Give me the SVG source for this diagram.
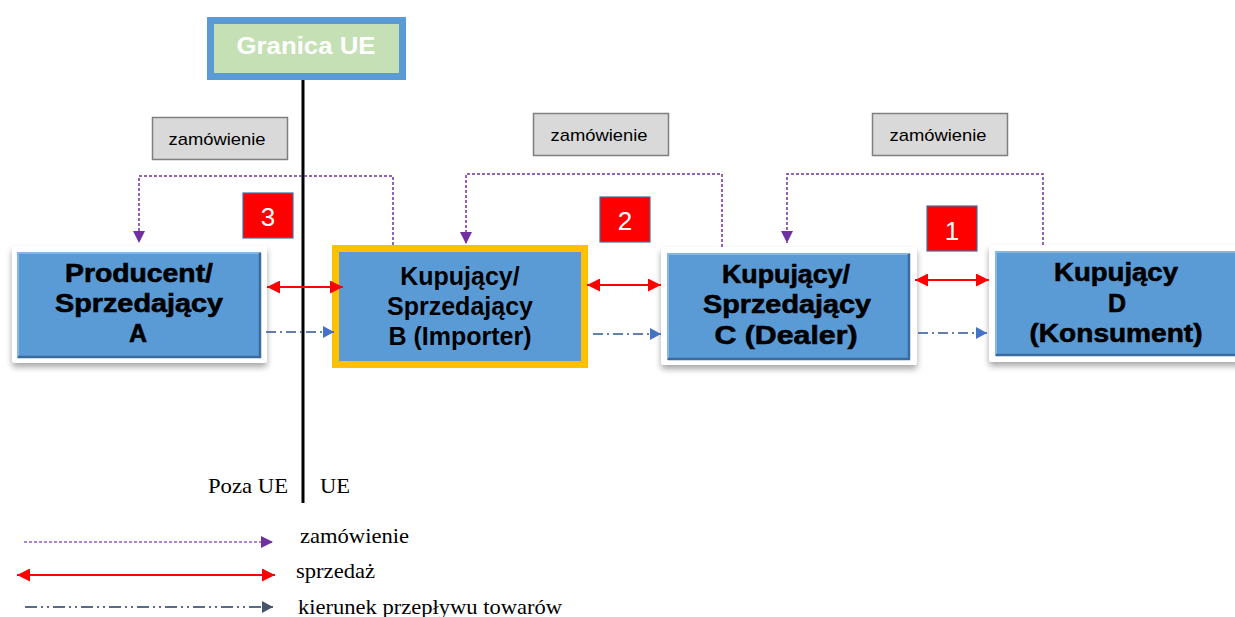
<svg xmlns="http://www.w3.org/2000/svg" width="1235" height="617" viewBox="0 0 1235 617">
  <defs>
    <style>
      .lbl { font-family: "Liberation Sans", Arial, sans-serif; font-weight: bold; font-size: 25px; fill: #000; text-anchor: middle; }
      .heavy { stroke: #000; stroke-width: 0.6; }
      .order-box { fill: #d9d9d9; stroke: #7f7f7f; stroke-width: 1.5; }
      .order-txt { font-family: "Liberation Sans", Arial, sans-serif; font-size: 17px; fill: #000; text-anchor: middle; }
      .badge { fill: #ff0000; stroke: #41719c; stroke-width: 1.2; }
      .badge-txt { font-family: "Liberation Sans", Arial, sans-serif; font-size: 26px; fill: #fff; text-anchor: middle; }
      .order { fill: none; stroke: #7030a0; stroke-width: 1.5; stroke-dasharray: 3 2; }
      .sale { fill: none; stroke: #ff0000; stroke-width: 2; }
      .goods { fill: none; stroke: #2f5597; stroke-width: 1.6; stroke-dasharray: 10 4 2 4; }
      .goods-leg { fill: none; stroke: #596b88; stroke-width: 1.8; stroke-dasharray: 12 4 2 4 2 4; }
      .serif { font-family: "Liberation Serif", "Times New Roman", serif; font-size: 21px; fill: #000; }
      .frame { fill: #fff; filter: url(#shadow); }
      .node-fill { fill: #5b9bd5; }
      .bevel-dark { fill: none; stroke: #3b6b9c; stroke-width: 2.5; }
      .bevel-light { fill: none; stroke: #86b6e4; stroke-width: 2; }
    </style>
    <filter id="shadow" x="-10%" y="-10%" width="120%" height="130%">
      <feDropShadow dx="0" dy="4" stdDeviation="3" flood-color="#000" flood-opacity="0.35"/>
    </filter>
    <marker id="mOrder" markerUnits="userSpaceOnUse" markerWidth="12" markerHeight="12" viewBox="0 0 10 10" refX="10" refY="5" orient="auto">
      <path d="M0,0 L10,5 L0,10 z" fill="#7030a0"/>
    </marker>
    <marker id="mSale" markerUnits="userSpaceOnUse" markerWidth="13" markerHeight="13" viewBox="0 0 10 10" refX="10" refY="5" orient="auto-start-reverse">
      <path d="M0,0 L10,5 L0,10 z" fill="#ff0000"/>
    </marker>
    <marker id="mGoods" markerUnits="userSpaceOnUse" markerWidth="11" markerHeight="12" viewBox="0 0 10 10" refX="10" refY="5" orient="auto" preserveAspectRatio="none">
      <path d="M0,0 L10,5 L0,10 z" fill="#4472c4"/>
    </marker>
    <marker id="mGoodsLeg" markerUnits="userSpaceOnUse" markerWidth="11" markerHeight="12" viewBox="0 0 10 10" refX="10" refY="5" orient="auto" preserveAspectRatio="none">
      <path d="M0,0 L10,5 L0,10 z" fill="#44546a"/>
    </marker>
  </defs>

  <rect width="1235" height="617" fill="#fff"/>

  <!-- EU border line and its header -->
  <g id="border">
    <line x1="303" y1="80" x2="303" y2="503" stroke="#000" stroke-width="3"/>
    <rect x="210.5" y="20.5" width="192" height="56" fill="#c5e0b4" stroke="#5b9bd5" stroke-width="7"/>
    <text x="306" y="54" font-family="'Liberation Sans', Arial, sans-serif" font-weight="bold" font-size="24" fill="#fff" text-anchor="middle" textLength="139" lengthAdjust="spacingAndGlyphs">Granica UE</text>
    <text class="serif" x="208" y="493" textLength="80" lengthAdjust="spacingAndGlyphs">Poza UE</text>
    <text class="serif" x="320" y="493" textLength="30" lengthAdjust="spacingAndGlyphs">UE</text>
  </g>

  <!-- order labels -->
  <g id="order-label-1">
    <rect class="order-box" x="152.5" y="117.5" width="135" height="42"/>
    <text class="order-txt" x="217" y="145" textLength="97" lengthAdjust="spacingAndGlyphs">zamówienie</text>
  </g>
  <g id="order-label-2">
    <rect class="order-box" x="533.5" y="113.5" width="135" height="42"/>
    <text class="order-txt" x="599" y="141" textLength="97" lengthAdjust="spacingAndGlyphs">zamówienie</text>
  </g>
  <g id="order-label-3">
    <rect class="order-box" x="872.5" y="113.5" width="135" height="42"/>
    <text class="order-txt" x="938" y="141" textLength="97" lengthAdjust="spacingAndGlyphs">zamówienie</text>
  </g>

  <!-- step badges -->
  <g id="badge-3">
    <rect class="badge" x="243" y="193" width="50" height="45"/>
    <text class="badge-txt" x="268" y="226">3</text>
  </g>
  <g id="badge-2">
    <rect class="badge" x="600" y="197" width="50" height="45"/>
    <text class="badge-txt" x="625" y="230">2</text>
  </g>
  <g id="badge-1">
    <rect class="badge" x="927" y="206" width="50" height="45"/>
    <text class="badge-txt" x="952" y="240">1</text>
  </g>

  <!-- node A -->
  <g id="node-a">
    <rect class="frame" x="12" y="246" width="255" height="117" rx="3"/>
    <rect class="node-fill" x="17" y="252" width="244" height="106"/>
    <path class="bevel-light" d="M18,357 L18,253 L260,253"/>
    <path class="bevel-dark" d="M260,253 L260,357 L18,357"/>
    <text class="lbl heavy" x="139" y="282" textLength="148" lengthAdjust="spacingAndGlyphs">Producent/</text>
    <text class="lbl heavy" x="139" y="312" textLength="168" lengthAdjust="spacingAndGlyphs">Sprzedający</text>
    <text class="lbl heavy" x="138" y="342">A</text>
  </g>

  <!-- node B (importer, highlighted) -->
  <g id="node-b">
    <rect x="335.5" y="248.5" width="249" height="116" fill="#5b9bd5" stroke="#ffc000" stroke-width="7"/>
    <text class="lbl" x="460" y="285">Kupujący/</text>
    <text class="lbl" x="460" y="315">Sprzedający</text>
    <text class="lbl" x="460" y="345">B (Importer)</text>
  </g>

  <!-- node C -->
  <g id="node-c">
    <rect class="frame" x="661" y="247" width="256" height="118" rx="3"/>
    <rect class="node-fill" x="667" y="253" width="243" height="107"/>
    <path class="bevel-light" d="M668,359 L668,254 L909,254"/>
    <path class="bevel-dark" d="M909,254 L909,359 L668,359"/>
    <text class="lbl heavy" x="786" y="283" textLength="128" lengthAdjust="spacingAndGlyphs">Kupujący/</text>
    <text class="lbl heavy" x="787" y="313" textLength="168" lengthAdjust="spacingAndGlyphs">Sprzedający</text>
    <text class="lbl heavy" x="786" y="344" textLength="143" lengthAdjust="spacingAndGlyphs">C (Dealer)</text>
  </g>

  <!-- node D -->
  <g id="node-d">
    <rect class="frame" x="989" y="245" width="254" height="117" rx="3"/>
    <rect class="node-fill" x="995" y="251" width="243" height="105"/>
    <path class="bevel-light" d="M996,355 L996,252 L1238,252"/>
    <path class="bevel-dark" d="M996,355 L1238,355"/>
    <text class="lbl heavy" x="1116" y="281" textLength="124" lengthAdjust="spacingAndGlyphs">Kupujący</text>
    <text class="lbl heavy" x="1117" y="312">D</text>
    <text class="lbl heavy" x="1116" y="342" textLength="173" lengthAdjust="spacingAndGlyphs">(Konsument)</text>
  </g>

  <!-- connectors -->
  <g id="connectors">
    <!-- orders -->
    <path class="order" d="M393,245 L393,176 L139,176 L139,243" marker-end="url(#mOrder)"/>
    <path class="order" d="M722,247 L722,174 L466,174 L466,244" marker-end="url(#mOrder)"/>
    <path class="order" d="M1043,245 L1043,174 L787,174 L787,243" marker-end="url(#mOrder)"/>
    <!-- sales -->
    <line class="sale" x1="267" y1="287" x2="343" y2="287" marker-start="url(#mSale)" marker-end="url(#mSale)"/>
    <line class="sale" x1="587" y1="285" x2="661" y2="285" marker-start="url(#mSale)" marker-end="url(#mSale)"/>
    <line class="sale" x1="915" y1="280" x2="989" y2="280" marker-start="url(#mSale)" marker-end="url(#mSale)"/>
    <!-- flow of goods -->
    <line class="goods" x1="266" y1="332" x2="334" y2="332" marker-end="url(#mGoods)"/>
    <line class="goods" x1="593" y1="334" x2="661" y2="334" marker-end="url(#mGoods)"/>
    <line class="goods" x1="918" y1="333" x2="987" y2="333" marker-end="url(#mGoods)"/>
  </g>

  <!-- legend -->
  <g id="legend">
    <line class="order" x1="24" y1="542" x2="273" y2="542" style="stroke:#8e5cc4" marker-end="url(#mOrder)"/>
    <text class="serif" x="300" y="543" textLength="109" lengthAdjust="spacingAndGlyphs">zamówienie</text>
    <line class="sale" x1="17" y1="575" x2="275" y2="575" marker-start="url(#mSale)" marker-end="url(#mSale)"/>
    <text class="serif" x="296" y="578" textLength="79" lengthAdjust="spacingAndGlyphs">sprzedaż</text>
    <line class="goods-leg" x1="25" y1="607" x2="273" y2="607" marker-end="url(#mGoodsLeg)"/>
    <text class="serif" x="298" y="614" textLength="264" lengthAdjust="spacingAndGlyphs">kierunek przepływu towarów</text>
  </g>
</svg>
